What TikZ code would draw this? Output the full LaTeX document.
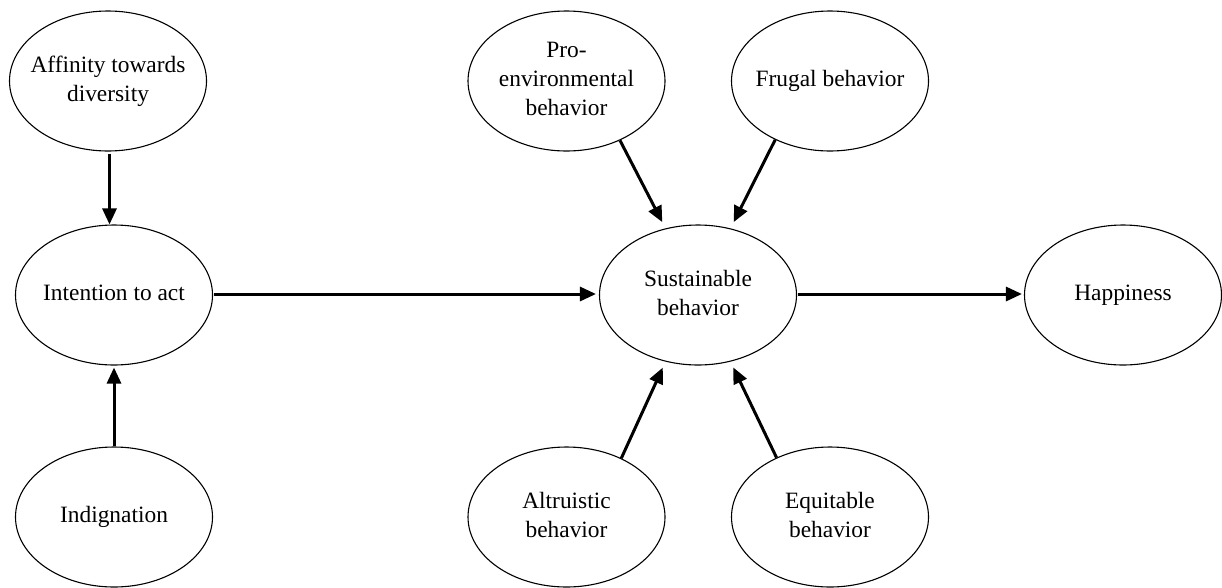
\documentclass[tikz,border=0pt]{standalone}
\usepackage{fontspec}
\setmainfont{Liberation Serif}
\usetikzlibrary{shapes.geometric,arrows.meta}
\newcommand\vartext[1]{\makebox[0pt]{\begin{tabular}{@{}c@{}}#1\end{tabular}}}
\begin{document}
\begin{tikzpicture}[x=1pt,y=-1pt,
  var/.style={draw=black, line width=1.1pt, ellipse, minimum width=197pt, minimum height=140pt,
    inner sep=0pt, font=\fontsize{23.4}{29}\selectfont},
  link/.style={line width=3pt, -{Triangle[length=16pt,width=14pt]}}]
\useasboundingbox (0,0) rectangle (1222,587);
\node[var] (aff) at (108,81) {\vartext{Affinity towards\\diversity}};
\node[var] (int) at (114,295) {\vartext{Intention to act}};
\node[var] (ind) at (114,517) {\vartext{Indignation}};
\node[var] (pro) at (566.5,81) {\vartext{Pro-\\environmental\\behavior}};
\node[var] (fru) at (830,81) {\vartext{Frugal behavior}};
\node[var] (sus) at (698,295) {\vartext{Sustainable\\behavior}};
\node[var] (hap) at (1123,295) {\vartext{Happiness}};
\node[var] (alt) at (566.5,517) {\vartext{Altruistic\\behavior}};
\node[var] (equ) at (830,517) {\vartext{Equitable\\behavior}};
\draw[link, shorten <=2pt] (aff.south -| 109.5,0) -- (int.north -| 109.5,0);
\draw[link, shorten >=2pt] (ind.north) -- (int.south);
\draw[link, shorten <=1pt, shorten >=3pt] (int.east |- 0,294) -- (sus.west |- 0,294);
\draw[link, shorten <=1pt, shorten >=2pt] (sus.east |- 0,294) -- (hap.west |- 0,294);
\draw[link, shorten >=7pt] (pro.-48) -- (sus.116);
\draw[link, shorten >=7pt] (fru.227) -- (sus.64.6);
\draw[link, shorten >=6.5pt] (alt.47.5) -- (sus.244);
\draw[link, shorten >=6.5pt] (equ.132) -- (sus.-64.5);
\end{tikzpicture}
\end{document}
